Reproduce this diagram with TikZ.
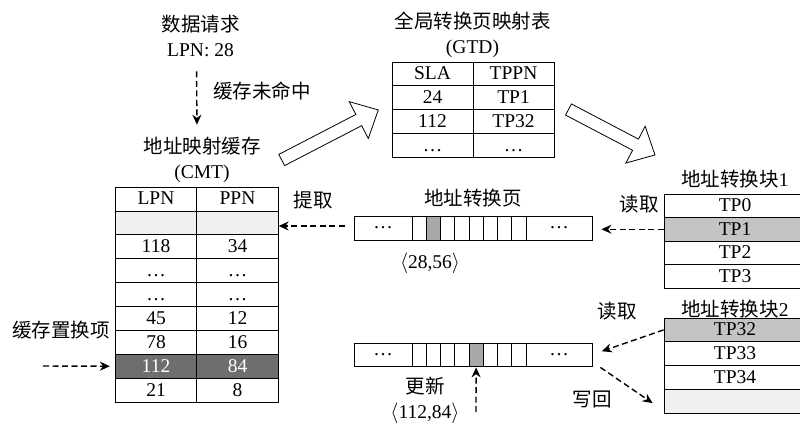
\documentclass[tikz,border=0pt]{standalone}
\usepackage{fontspec}
\setmainfont{Liberation Serif}
\newfontfamily\cjk{Noto Sans CJK SC}
\usetikzlibrary{arrows.meta, positioning}

\definecolor{lightrow}{HTML}{F0F0F0}
\definecolor{midgray}{HTML}{C4C4C4}
\definecolor{pagegray}{HTML}{A8A8A8}
\definecolor{darkrow}{HTML}{6E6E6E}

\tikzset{
    cell/.style={draw, line width=0.8pt, inner sep=0pt, minimum width=81.5pt,
        minimum height=23.9pt, text height=15pt, text depth=3pt},
    pcell/.style={draw, line width=0.8pt, inner sep=0pt, minimum height=24pt},
    blk/.style={cell, minimum width=142pt, minimum height=23.6pt},
    dasharrow/.style={->, line width=1.4pt, dash pattern=on 6pt off 3.5pt},
    hollow/.style={draw, line width=0.8pt, fill=white}
}

\begin{document}
\begin{tikzpicture}[x=1pt, y=-1pt, font=\fontsize{19.5}{25}\selectfont,
    >={Stealth[length=10pt,width=9pt]}]
    \useasboundingbox (0,0) rectangle (800,424);

    % Request and CMT title
    \node[align=center] (req) at (200.5,36) {{\cjk 数据请求}\\LPN: 28};
    \node[align=center] (cmtt) at (202,160) {{\cjk 地址映射缓存}\\(CMT)};

    % CMT table
    \foreach \l/\p/\f/\t [count=\i from 0] in {LPN/PPN/white/black, {}/{}/lightrow/black,
        118/34/white/black, \dots/\dots/white/black, \dots/\dots/white/black,
        45/12/white/black, 78/16/white/black, 112/84/darkrow/white, 21/8/white/black} {
        \node[cell, fill=\f, text=\t] (c\i l) at (156,{187+23.9*(\i+0.5)}) {\l};
        \node[cell, fill=\f, text=\t] (c\i p) at (237.5,{187+23.9*(\i+0.5)}) {\p};
    }

    % GTD
    \node[align=center] (gtdt) at (472.5,35) {{\cjk 全局转换页映射表}\\(GTD)};
    \foreach \s/\p [count=\i from 0] in {SLA/TPPN, 24/TP1, 112/TP32, \dots/\dots} {
        \node[cell, minimum width=81pt, minimum height=23.75pt] (g\i s) at (432.5,{62+23.75*(\i+0.5)}) {\s};
        \node[cell, minimum width=81pt, minimum height=23.75pt] (g\i p) at (513.5,{62+23.75*(\i+0.5)}) {\p};
    }

    % Translation page 1
    \node (pg1t) at (473,198) {\cjk 地址转换页};
    \node[pcell, minimum width=58pt] (pg1l) at (383,228) {\dots};
    \foreach \f [count=\i] in {white,pagegray,white,white,white,white,white,white}
        \node[pcell, fill=\f, minimum width=14.25pt] (pg1c\i) at ({412+14.25*(\i-0.5)},228) {};
    \node[pcell, minimum width=66pt] (pg1r) at (559,228) {\dots};

    % Translation page 2
    \node[pcell, minimum width=58pt, minimum height=23pt] (pg2l) at (383,354.5) {\dots};
    \foreach \f [count=\i] in {white,white,white,white,pagegray,white,white,white}
        \node[pcell, fill=\f, minimum width=14.25pt, minimum height=23pt] (pg2c\i) at ({412+14.25*(\i-0.5)},354.5) {};
    \node[pcell, minimum width=66pt, minimum height=23pt] (pg2r) at (559,354.5) {\dots};

    % Translation blocks
    \node (b1t) at (735,179) {{\cjk 地址转换块}1};
    \foreach \n/\f [count=\i from 0] in {TP0/white, TP1/midgray, TP2/white, TP3/white}
        \node[blk, fill=\f] (b1r\i) at (735,{194+23.5*(\i+0.5)}) {\n};
    \node (b2t) at (735,309) {{\cjk 地址转换块}2};
    \foreach \n/\f [count=\i from 0] in {TP32/midgray, TP33/white, TP34/white, {}/lightrow}
        \node[blk, fill=\f, minimum height=23.75pt] (b2r\i) at (735,{318+23.75*(\i+0.5)}) {\n};

    % Hollow arrows
    \begin{scope}[shift={(281.7,160)}, rotate=27.4]
        \draw[hollow] (0,-6.3) -- (86.8,-6.3) -- (86.8,-20.75) -- (108.8,0)
            -- (86.8,20.75) -- (86.8,6.3) -- (0,6.3) -- cycle;
    \end{scope}
    \begin{scope}[shift={(568.5,109.5)}, rotate=-27.7]
        \draw[hollow] (0,-6.3) -- (75.7,-6.3) -- (75.7,-20.75) -- (97.7,0)
            -- (75.7,20.75) -- (75.7,6.3) -- (0,6.3) -- cycle;
    \end{scope}

    % Dashed arrows
    \coordinate (evict) at (43,366);
    \coordinate (upd) at (476,412);
    \draw[dasharrow, shorten <=11pt, shorten >=9pt] ([xshift=-4pt]req.south) -- ([xshift=-5pt]cmtt.north);
    \draw[dasharrow, shorten <=9pt] ([yshift=2pt]pg1l.west) -- ([yshift=2pt]pg1l.west -| c1p.east);
    \draw[dasharrow, shorten >=9pt] (b1r1.west) -- (b1r1.west -| pg1r.east);
    \draw[dasharrow, shorten >=10pt] (b2r0.west) -- (pg2r.east);
    \draw[dasharrow] ([shift={(8pt,-1pt)}]pg2r.south east) -- ([shift={(-11pt,-2pt)}]b2r3.west);
    \draw[dasharrow, shorten >=1pt] (upd) -- (pg2c5.south);
    \draw[dasharrow, shorten >=5pt] (evict) -- (c7l.west);

    % Labels
    \node (miss) at (262,91) {\cjk 缓存未命中};
    \node (fetch) at (313,200) {\cjk 提取};
    \node (read1) at (639,204) {\cjk 读取};
    \node (read2) at (617,311) {\cjk 读取};
    \node (wback) at (592,399) {\cjk 写回};
    \node (evictt) at (61,330) {\cjk 缓存置换项};
    \node (kv1) at (430,263) {$\langle$28,56$\rangle$};
    \node[align=center] (kv2) at (425,400) {{\cjk 更新}\\$\langle$112,84$\rangle$};
\end{tikzpicture}
\end{document}
